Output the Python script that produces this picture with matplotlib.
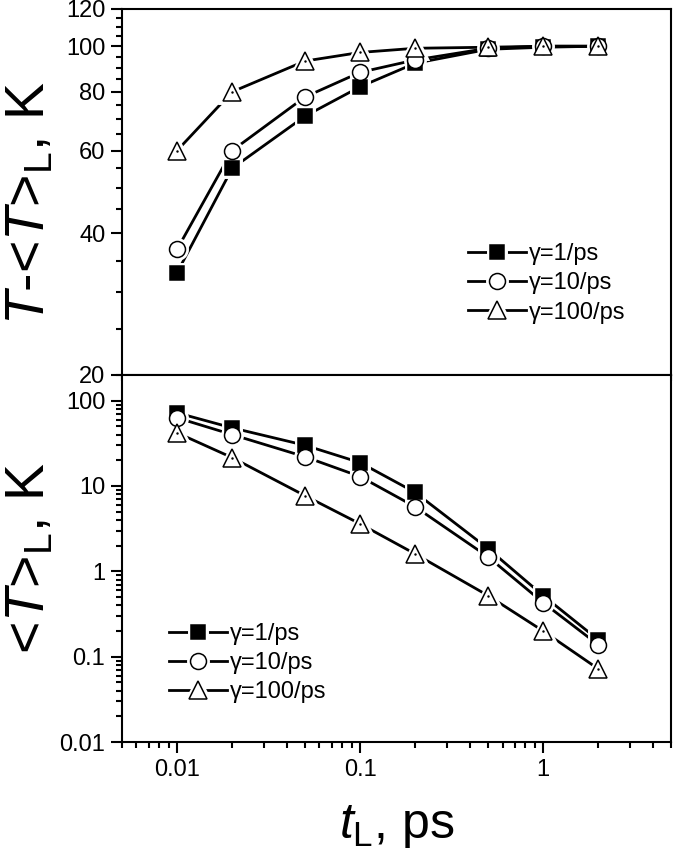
import matplotlib
matplotlib.use("Agg")
import matplotlib.pyplot as plt
from matplotlib.ticker import FixedLocator, MultipleLocator, LogLocator, NullFormatter, FixedFormatter
from matplotlib.lines import Line2D
from matplotlib.legend_handler import HandlerTuple

plt.rcParams["font.family"] = ["Liberation Sans", "DejaVu Sans"]
plt.rcParams["mathtext.fontset"] = "custom"
plt.rcParams["mathtext.rm"] = "Liberation Sans"
plt.rcParams["mathtext.it"] = "Liberation Sans:italic"

# data
t_L = [0.01, 0.02, 0.05, 0.1, 0.2, 0.5, 1, 2]
labels = ["γ=1/ps", "γ=10/ps", "γ=100/ps"]

# top panel: T - <T>_L, K
diff_g1 = [33, 55, 71, 82, 92, 98.5, 99.5, 100]
diff_g10 = [37, 60, 78, 88, 93.5, 99, 100, 100]
diff_g100 = [60, 80, 93, 97, 99, 99.5, 100, 100]

# bottom panel: <T>_L, K
mean_g1 = [72, 48, 30, 18.8, 8.4, 1.85, 0.52, 0.158]
mean_g10 = [63, 40, 22, 12.9, 5.7, 1.48, 0.43, 0.138]
mean_g100 = [42, 21.5, 7.7, 3.6, 1.6, 0.52, 0.20, 0.072]

styles = [
    dict(marker="s", ms=10.5, mfc="black"),
    dict(marker="o", ms=11.5, mfc="white"),
    dict(marker="^", ms=12.5, mfc="white"),
]


def draw_panel(ax, series):
    handles = []
    for i, (ys, st) in enumerate(zip(series, styles)):
        ax.plot(t_L, ys, color="black", lw=2.0, zorder=2)
        # white halo so the line stops short of each marker
        ax.plot(t_L, ys, ls="none", marker=st["marker"], ms=st["ms"],
                mfc="white", mec="white", mew=5, zorder=3)
        ax.plot(t_L, ys, ls="none", marker=st["marker"], ms=st["ms"],
                mfc=st["mfc"], mec="black", mew=1.1, zorder=4 + i)
        if st["marker"] == "^":
            ax.plot(t_L, ys, ls="none", marker=".", ms=1.5, color="black", zorder=8)
        h_line = Line2D([], [], color="black", lw=2.0)
        h_halo = Line2D([], [], ls="none", marker=st["marker"], ms=st["ms"],
                        mfc="white", mec="white", mew=5)
        h_mark = Line2D([], [], ls="none", marker=st["marker"], ms=st["ms"],
                        mfc=st["mfc"], mec="black", mew=1.1)
        handles.append((h_line, h_halo, h_mark))
    return handles


def style_axis(ax):
    for s in ax.spines.values():
        s.set_linewidth(1.5)
    ax.tick_params(which="major", direction="out", length=8, width=1.5,
                   labelsize=17, pad=4, top=False, right=False)
    ax.tick_params(which="minor", direction="out", length=4, width=1.5,
                   top=False, right=False)
    ax.set_xscale("log")
    ax.set_xlim(0.005, 5)
    ax.xaxis.set_major_locator(FixedLocator([0.01, 0.1, 1]))
    ax.xaxis.set_major_formatter(FixedFormatter(["0.01", "0.1", "1"]))
    ax.xaxis.set_minor_locator(LogLocator(base=10, subs=range(2, 10)))
    ax.xaxis.set_minor_formatter(NullFormatter())


fig = plt.figure(figsize=(6.9, 8.63), dpi=100)
ax1 = fig.add_axes([0.1768, 0.5655, 0.7957, 0.4241])
ax2 = fig.add_axes([0.1768, 0.1402, 0.7957, 0.4253])

leg_kw = dict(handler_map={tuple: HandlerTuple(ndivide=1)}, loc="center left",
              frameon=False, fontsize=17, handlelength=2.45, handletextpad=0.15,
              labelspacing=0.3, borderpad=0, borderaxespad=0)

# top panel
h1 = draw_panel(ax1, [diff_g1, diff_g10, diff_g100])
style_axis(ax1)
ax1.set_yscale("log")
ax1.set_ylim(20, 120)
yt = [20, 40, 60, 80, 100, 120]
ax1.yaxis.set_major_locator(FixedLocator(yt))
ax1.yaxis.set_major_formatter(FixedFormatter([str(v) for v in yt]))
ax1.yaxis.set_minor_locator(MultipleLocator(5))
ax1.yaxis.set_minor_formatter(NullFormatter())
ax1.tick_params(axis="x", labelbottom=False)
ax1.set_ylabel(r"$T$-<$T$>$_{\mathrm{L}}$, K", fontsize=40)
ax1.yaxis.set_label_coords(-0.12, 0.47)
ax1.legend(h1, labels, bbox_to_anchor=(0.63, 0.25), **leg_kw)

# bottom panel
h2 = draw_panel(ax2, [mean_g1, mean_g10, mean_g100])
style_axis(ax2)
ax2.set_yscale("log")
ax2.set_ylim(0.01, 200)
yt2 = [0.01, 0.1, 1, 10, 100]
ax2.yaxis.set_major_locator(FixedLocator(yt2))
ax2.yaxis.set_major_formatter(FixedFormatter(["0.01", "0.1", "1", "10", "100"]))
ax2.yaxis.set_minor_locator(LogLocator(base=10, subs=range(2, 10)))
ax2.yaxis.set_minor_formatter(NullFormatter())
ax2.set_ylabel(r"<$T$>$_{\mathrm{L}}$, K", fontsize=40)
ax2.yaxis.set_label_coords(-0.12, 0.5)
ax2.set_xlabel(r"$t_{\mathrm{L}}$, ps", fontsize=36)
ax2.xaxis.set_label_coords(0.5, -0.165)
ax2.legend(h2, labels, bbox_to_anchor=(0.085, 0.215), **leg_kw)

fig.savefig("out.png", dpi=100)
